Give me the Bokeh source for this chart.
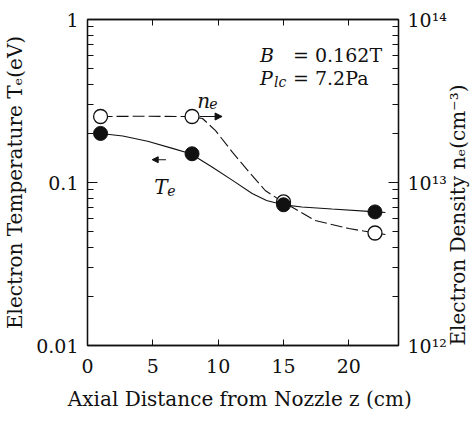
import math
from bokeh.plotting import figure
from bokeh.models import (Range1d, LogScale, LogAxis, LinearAxis, FixedTicker,
                          CustomJSTickFormatter, Label, Arrow, NormalHead)
from bokeh.embed import file_html
from bokeh.resources import INLINE

# ---- data ----
z_points = [1, 8, 15, 22]
te_points = [0.200, 0.150, 0.073, 0.066]          # eV
ne_points = [2.54e13, 2.54e13, 7.6e12, 4.9e12]    # cm^-3

# smooth guide curves drawn in the figure
te_curve_z = [1.0, 2.7, 4.6, 6.5, 7.9, 9.5, 11.1, 12.6, 13.7, 14.9, 16.4, 18.7, 21.8, 22.8]
te_curve_y = [0.200, 0.193, 0.179, 0.162, 0.150, 0.125, 0.103, 0.0857, 0.0776, 0.0732,
              0.0708, 0.0687, 0.0663, 0.0655]
ne_curve_z = [1.0, 4.2, 7.9, 8.8, 9.8, 11.1, 12.4, 13.6, 14.9, 15.7, 17.4, 20.0, 21.8, 22.8]
ne_curve_y = [2.54e13, 2.55e13, 2.54e13, 2.47e13, 2.08e13, 1.53e13, 1.15e13, 8.93e12,
              7.64e12, 7.03e12, 5.85e12, 5.22e12, 4.93e12, 4.80e12]

x_ticks = [0, 5, 10, 15, 20]
te_ticks = [0.01, 0.1, 1]
ne_ticks = [1e12, 1e13, 1e14]

x_label = "Axial Distance from Nozzle z  (cm)"
te_label = "Electron Temperature Tₑ(eV)"
ne_label = "Electron Density nₑ(cm⁻³)"

SERIF = "DejaVu Serif"
BLACK = "#111111"

p = figure(frame_width=311, frame_height=326, output_backend="svg", toolbar_location=None,
           x_range=Range1d(0, 23.8), y_range=Range1d(0.01, 1), y_axis_type="log",
           x_axis_location=None, y_axis_location=None,
           min_border_left=85, min_border_right=78, min_border_top=19, min_border_bottom=74)
p.extra_y_ranges = {"ne": Range1d(1e12, 1e14)}
p.extra_y_scales = {"ne": LogScale()}
p.grid.visible = False
p.outline_line_color = BLACK
p.outline_line_width = 1.3
p.background_fill_color = "white"
p.border_fill_color = "white"

minor_te = [k * 10.0 ** e for e in (-2, -1) for k in range(2, 10)]
minor_ne = [k * 10.0 ** e for e in (12, 13) for k in range(2, 10)]

def style(ax, font_size="19px"):
    ax.axis_line_color = BLACK
    ax.axis_line_width = 1.3
    ax.major_tick_line_color = BLACK
    ax.minor_tick_line_color = BLACK
    ax.major_tick_out = 0
    ax.minor_tick_out = 0
    ax.major_label_text_font = SERIF
    ax.major_label_text_font_size = font_size
    ax.major_label_text_color = BLACK
    ax.axis_label_text_font = SERIF
    ax.axis_label_text_font_size = "20px"
    ax.axis_label_text_font_style = "normal"
    ax.axis_label_text_color = BLACK

# bottom axis
xb = LinearAxis(ticker=FixedTicker(ticks=x_ticks, minor_ticks=[]), axis_label=x_label)
style(xb)
xb.major_tick_in = 6
xb.major_label_standoff = 13
xb.axis_label_standoff = 11
p.add_layout(xb, "below")

# top axis (ticks only)
xt = LinearAxis(ticker=FixedTicker(ticks=x_ticks, minor_ticks=[]),
                formatter=CustomJSTickFormatter(code="return '';"))
style(xt)
xt.major_tick_in = 6
xt.major_label_standoff = 0
p.add_layout(xt, "above")

# left axis (Te)
yl = LogAxis(ticker=FixedTicker(ticks=te_ticks, minor_ticks=minor_te),
             formatter=CustomJSTickFormatter(code="return String(tick);"),
             axis_label=te_label)
style(yl)
yl.major_tick_in = 10
yl.minor_tick_in = 6
yl.major_label_standoff = 9
yl.axis_label_standoff = 6
p.add_layout(yl, "left")

# right axis (ne)
sup_js = """
const sup = {"0":"\u2070","1":"\u00b9","2":"\u00b2","3":"\u00b3","4":"\u2074",
             "5":"\u2075","6":"\u2076","7":"\u2077","8":"\u2078","9":"\u2079"};
const e = Math.round(Math.log10(tick));
return "10" + String(e).split("").map(c => sup[c]).join("");
"""
yr = LogAxis(y_range_name="ne",
             ticker=FixedTicker(ticks=ne_ticks, minor_ticks=minor_ne),
             formatter=CustomJSTickFormatter(code=sup_js),
             axis_label=ne_label)
style(yr)
yr.major_tick_in = 10
yr.minor_tick_in = 6
yr.major_label_standoff = 9
yr.axis_label_standoff = 8
if "axis_label_align" in LogAxis.properties():
    # read bottom-to-top like the reference, starting near the bottom of the side
    yr.axis_label_orientation = math.pi / 2
    yr.axis_label_align = "start"
p.add_layout(yr, "right")

# curves
p.line(ne_curve_z, ne_curve_y, y_range_name="ne", line_color=BLACK, line_width=1.1,
       line_dash="12 4")
p.line(te_curve_z, te_curve_y, line_color=BLACK, line_width=1.1)

# markers
p.scatter(z_points, ne_points, y_range_name="ne", marker="circle", size=14,
          fill_color="white", line_color=BLACK, line_width=1.3)
p.scatter(z_points, te_points, marker="circle", size=14,
          fill_color=BLACK, line_color=BLACK, line_width=1.0)

# arrows
p.add_layout(Arrow(x_start=8.6, y_start=2.54e13, x_end=10.3, y_end=2.54e13, y_range_name="ne",
                   line_color=BLACK, line_width=1.1,
                   end=NormalHead(size=7, fill_color=BLACK, line_color=BLACK)))
p.add_layout(Arrow(x_start=6.0, y_start=0.138, x_end=4.95, y_end=0.138,
                   line_color=BLACK, line_width=1.1,
                   end=NormalHead(size=6, fill_color=BLACK, line_color=BLACK)))

def lab(text, x, y, dx=0, dy=0, size="19px", style_="normal", **kw):
    p.add_layout(Label(x=x, y=y, x_offset=dx, y_offset=dy, text=text,
                       text_font=SERIF, text_font_size=size, text_font_style=style_,
                       text_color=BLACK, text_baseline="alphabetic", **kw))

# series labels
lab("n", 8.4, 0.318, style_="italic", size="20px")
lab("e", 8.4, 0.318, dx=12, dy=-3, style_="italic", size="14px")
lab("T", 5.1, 0.0944, style_="italic", size="20px")
lab("e", 5.1, 0.0944, dx=13, dy=-4, style_="italic", size="14px")

# condition annotation
lab("B", 13.2, 0.609, style_="italic")
lab("=", 13.2, 0.609, dx=33)
lab("0.162T", 13.2, 0.609, dx=55)
lab("P", 13.2, 0.435, style_="italic")
lab("lc", 13.2, 0.435, dx=14, dy=-4, style_="italic", size="14px")
lab("=", 13.2, 0.435, dx=33)
lab("7.2Pa", 13.2, 0.435, dx=55)

open("out.html", "w").write(file_html(p, INLINE))
